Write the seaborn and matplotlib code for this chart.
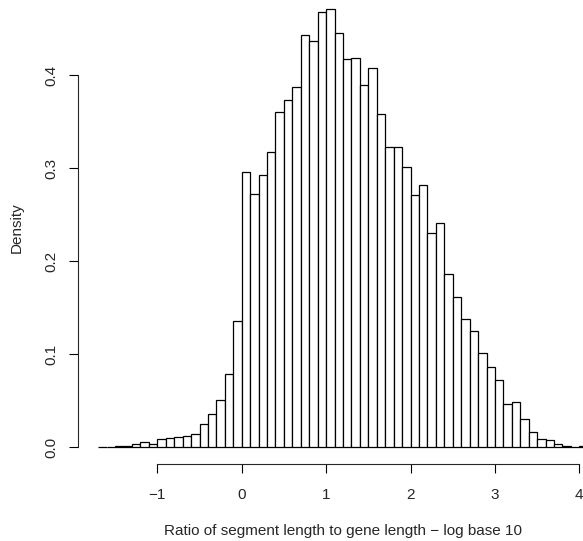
import numpy as np
import pandas as pd
import matplotlib
matplotlib.use("Agg")
import matplotlib.pyplot as plt
import seaborn as sns

# histogram: bins of width 0.1 from -1.7 to 4.1
bin_start, bin_stop, bin_width = -1.7, 4.1, 0.1
density = [0.0005, 0.0005, 0.0007, 0.0015, 0.003, 0.005, 0.0036, 0.009,
           0.010, 0.0108, 0.0122, 0.0143, 0.0247, 0.0351, 0.0505, 0.079,
           0.135,
           0.2953, 0.272, 0.2928, 0.3175, 0.3605, 0.373, 0.387, 0.4434,
           0.4362, 0.468, 0.4706, 0.4455, 0.4169, 0.4186, 0.3896, 0.4072,
           0.358, 0.3222, 0.3229, 0.3014, 0.2710, 0.2817, 0.2304, 0.2405,
           0.1857, 0.1613, 0.138, 0.1244, 0.1011, 0.0857, 0.072, 0.0466,
           0.048, 0.0297, 0.0158, 0.0090, 0.0079, 0.0029, 0.0011, 0.0004,
           0.0011]
x_ticks = [-1, 0, 1, 2, 3, 4]
y_ticks = [0.0, 0.1, 0.2, 0.3, 0.4]

mids = bin_start + bin_width * (np.arange(len(density)) + 0.5)
df = pd.DataFrame({"mid": mids, "density": density})

sns.set_style("ticks")
plt.rcParams["font.family"] = ["Liberation Sans", "DejaVu Sans"]

fig = plt.figure(figsize=(5.83, 5.41), dpi=100)
ax = fig.add_axes([0.1343, 0.1418, 0.8657, 0.8582])

sns.histplot(data=df, x="mid", weights="density", binwidth=bin_width,
             binrange=(bin_start, bin_stop), stat="count", color="white",
             edgecolor="black", linewidth=0.9, alpha=1, ax=ax)

ax.set_xlim(-1.936, 4.043)
ax.set_ylim(-0.0186, 0.4806)

# R-style axes: lines only across the tick range
for s in ["top", "right"]:
    ax.spines[s].set_visible(False)
ax.spines["bottom"].set_bounds(-1, 4)
ax.spines["left"].set_bounds(0, 0.4)
for s in ["bottom", "left"]:
    ax.spines[s].set_linewidth(0.8)

ax.set_xticks(x_ticks)
ax.set_xticklabels(["\u22121", "0", "1", "2", "3", "4"])
ax.set_yticks(y_ticks)
ax.set_yticklabels([f"{v:.1f}" for v in y_ticks], rotation=90, va="center")
ax.tick_params(length=6.5, width=0.8, labelsize=11, color="black")
ax.tick_params(axis="x", pad=10.5)
ax.tick_params(axis="y", pad=7.5)

# the original plot region runs past the right edge, so labels sit off-centre
ax.set_xlabel("Ratio of segment length to gene length \u2212 log base 10",
              fontsize=11, labelpad=16, x=0.5237)
ax.set_ylabel("Density", fontsize=11, labelpad=15, y=0.5096)

fig.savefig("out.png", dpi=100)
